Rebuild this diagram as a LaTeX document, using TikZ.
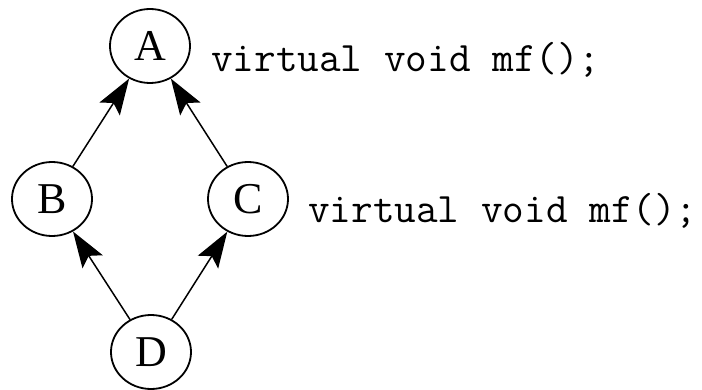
\documentclass[tikz,border=0pt]{standalone}
\usepackage{fontspec}
\setmainfont{Liberation Serif}
\usetikzlibrary{arrows.meta,shapes.geometric}
\begin{document}
\begin{tikzpicture}[x=1pt,y=1pt,
  cls/.style={draw, ellipse, line width=1.8pt, minimum width=80pt, minimum height=74pt, inner sep=0pt, font=\fontsize{44}{44}\selectfont},
  inh/.style={line width=1.5pt, -{Stealth[length=36pt,width=24pt,inset=7pt]}},
  code/.style={anchor=base west, inner sep=0pt, font=\ttfamily\fontsize{42}{42}\selectfont}]
\useasboundingbox (0,0) rectangle (702,389);
\node[cls] (A) at (150,343) {A};
\node[cls] (B) at (52,190) {B};
\node[cls] (C) at (248,190) {C};
\node[cls] (D) at (151,37) {D};
\draw[inh] (B) -- (A);
\draw[inh] (C) -- (A);
\draw[inh] (D) -- (B);
\draw[inh] (D) -- (C);
\node[code] (ta) at (211,317) {virtual void mf();};
\node[code] (tc) at (308,167) {virtual void mf();};
\end{tikzpicture}
\end{document}
